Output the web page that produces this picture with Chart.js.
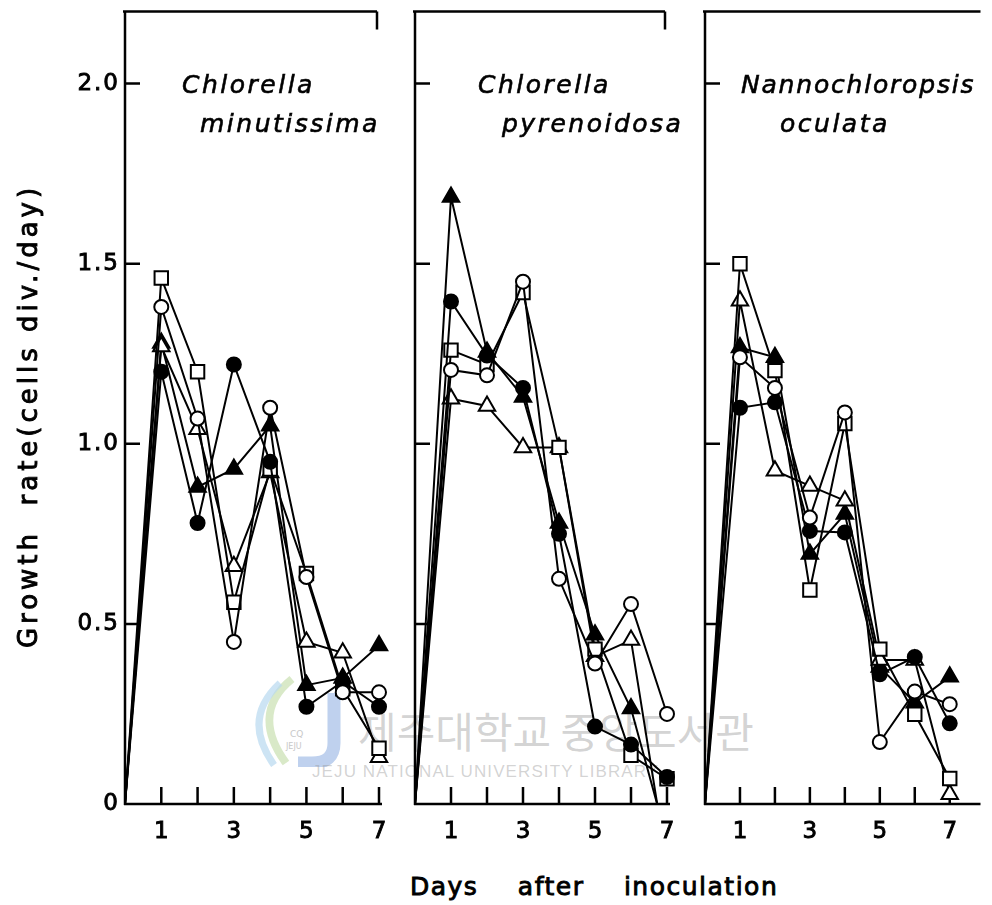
<!DOCTYPE html>
<html lang="en">
<head>
    <meta charset="UTF-8">
    <title>Growth rate of microalgae</title>
    <script src="https://cdn.jsdelivr.net/npm/chart.js"></script>
    <style>
        body {
            margin: 0;
            background: #fff;
        }

        #wrap {
            position: relative;
            width: 992px;
            height: 905px;
            overflow: hidden;
            background: #fff;
        }

        #wrap canvas {
            position: absolute;
            top: 0;
        }

        .mark {
            position: absolute;
            color: rgba(150, 150, 150, 0.42);
            white-space: nowrap;
        }

        #xTitle {
            position: absolute;
            left: 410px;
            top: 872px;
            font: 25px 'DejaVu Sans', sans-serif;
            letter-spacing: 1.5px;
            word-spacing: 30px;
            -webkit-text-stroke: 0.9px #000;
            white-space: nowrap;
        }
    </style>
</head>
<body>
<div id="wrap">
    <!-- library stamp behind the plots -->
    <svg class="mark" style="left:250px; top:675px;" width="100" height="92" viewBox="0 0 100 92">
        <path d="M42 4 C12 28 14 58 36 88" fill="none" stroke="#c9e0b0" stroke-width="8" opacity="0.7"/>
        <path d="M30 8 C2 34 4 62 24 90" fill="none" stroke="#b8d8ef" stroke-width="7" opacity="0.7"/>
        <path d="M84 18 L84 68 Q84 88 62 88 L48 88" fill="none" stroke="#a9c2e8" stroke-width="13" opacity="0.75"/>
        <text x="40" y="62" font-size="9" font-family="DejaVu Sans" fill="#c8c8c8">CQ</text>
        <text x="36" y="74" font-size="8" font-family="DejaVu Sans" fill="#c8c8c8">JEJU</text>
    </svg>
    <div class="mark" style="left:358px; top:705px; font: 42px 'Noto Sans CJK KR', sans-serif; line-height:50px;">제주대학교 중앙도서관</div>
    <div class="mark" style="left:312px; top:762px; font: 17px 'Liberation Sans', sans-serif; letter-spacing:1.1px; line-height:20px;">JEJU NATIONAL UNIVERSITY LIBRARY</div>

    <canvas id="p1" width="400" height="860" style="left:0px"></canvas>
    <canvas id="p2" width="290" height="860" style="left:395px"></canvas>
    <canvas id="p3" width="307" height="860" style="left:685px"></canvas>

    <div id="xTitle">Days after inoculation</div>
</div>

<script>
    const days = [0, 1, 2, 3, 4, 5, 6, 7];
    const yTicks = [0, 0.5, 1.0, 1.5, 2.0];
    const yTickLabels = ['0', '0.5', '1.0', '1.5', '2.0'];
    const xTickLabels = [1, 3, 5, 7];

    // Chlorella minutissima
    const cmOpenCircle     = [0, 1.38, 1.07, 0.45, 1.10, 0.63, 0.31, 0.31];
    const cmFilledCircle   = [0, 1.20, 0.78, 1.22, 0.95, 0.27, 0.34, 0.27];
    const cmOpenSquare     = [0, 1.46, 1.20, 0.56, 0.93, 0.64, 0.32, 0.155];
    const cmOpenTriangle   = [0, 1.27, 1.04, 0.66, 0.92, 0.45, 0.42, 0.13];
    const cmFilledTriangle = [0, 1.28, 0.88, 0.93, 1.05, 0.33, 0.35, 0.44];

    // Chlorella pyrenoidosa (the last two triangles fall below zero and are cut off)
    const cpOpenCircle     = [0, 1.205, 1.19, 1.45, 0.625, 0.39, 0.555, 0.25];
    const cpFilledCircle   = [0, 1.395, 1.245, 1.155, 0.75, 0.215, 0.165, 0.075];
    const cpOpenSquare     = [0, 1.26, 1.22, 1.42, 0.99, 0.43, 0.135, 0.07];
    const cpOpenTriangle   = [0, 1.125, 1.105, 0.99, 0.99, 0.41, 0.455, -0.17];
    const cpFilledTriangle = [0, 1.685, 1.255, 1.13, 0.78, 0.47, 0.265, -0.10];

    // Nannochloropsis oculata
    const noOpenCircle     = [0, 1.24, 1.155, 0.795, 1.087, 0.172, 0.312, 0.277];
    const noFilledCircle   = [0, 1.10, 1.115, 0.758, 0.754, 0.36, 0.408, 0.224];
    const noOpenSquare     = [0, 1.50, 1.203, 0.594, 1.056, 0.43, 0.249, 0.071];
    const noOpenTriangle   = [0, 1.397, 0.925, 0.883, 0.842, 0.40, 0.40, 0.027];
    const noFilledTriangle = [0, 1.267, 1.24, 0.694, 0.805, 0.38, 0.281, 0.353];

    const FONT = "'DejaVu Sans', sans-serif";

    // marker look for each of the five series, same order as the arrays above
    const markers = [
        { style: 'circle',   fill: '#fff', radius: 7 },
        { style: 'circle',   fill: '#000', radius: 7 },
        { style: 'rect',     fill: '#fff', radius: 9.5 },
        { style: 'triangle', fill: '#fff', radius: 9.5 },
        { style: 'triangle', fill: '#000', radius: 9.5 }
    ];

    function makeDatasets(series) {
        return series.map((vals, i) => ({
            data: days.map((d, j) => ({ x: d, y: vals[j] })),
            borderColor: '#000',
            borderWidth: 2,
            pointStyle: markers[i].style,
            // no symbol at the day-0 starting point
            pointRadius: c => (c.dataIndex === 0 ? 0 : markers[i].radius),
            pointBackgroundColor: markers[i].fill,
            pointBorderColor: '#000',
            pointBorderWidth: 2,
            showLine: true,
            tension: 0,
            clip: { left: 14, right: 14, top: 14, bottom: 0 }
        }));
    }

    // filled text with a thin outline so the strokes come out heavier
    function heavyText(ctx, s, x, y) {
        ctx.fillText(s, x, y);
        ctx.strokeText(s, x, y);
    }

    // axes frame, inward ticks and lettering
    const framePlugin = {
        id: 'frame',
        beforeDatasetsDraw(chart, args, o) {
            const { ctx, chartArea: a, scales: { x, y } } = chart;
            ctx.save();
            ctx.strokeStyle = '#000';
            ctx.lineWidth = 2.5;
            ctx.beginPath();
            ctx.moveTo(a.left, a.top - 1);
            ctx.lineTo(a.left, a.bottom + 1);
            ctx.moveTo(a.left - 2, a.top);
            ctx.lineTo(o.openRight ? a.right : a.right - 2, a.top);
            ctx.moveTo(a.left - 1, a.bottom);
            ctx.lineTo(o.openRight ? a.right : a.right + 3, a.bottom);
            if (!o.openRight) {
                ctx.moveTo(a.right - 2, a.top);
                ctx.lineTo(a.right - 2, a.top + 18);
            }
            yTicks.slice(1).forEach(v => {
                const py = y.getPixelForValue(v);
                ctx.moveTo(a.left, py);
                ctx.lineTo(a.left + 15, py);
            });
            days.slice(1).forEach(d => {
                const px = x.getPixelForValue(d);
                ctx.moveTo(px, a.bottom);
                ctx.lineTo(px, a.bottom - 17);
            });
            ctx.stroke();

            ctx.fillStyle = '#000';
            ctx.lineWidth = 0.9;
            ctx.letterSpacing = '2px';
            ctx.font = '23px ' + FONT;
            ctx.textAlign = 'center';
            ctx.textBaseline = 'middle';
            xTickLabels.forEach(d => {
                heavyText(ctx, String(d), x.getPixelForValue(d) + 1, a.bottom + 28);
            });

            if (o.yLabels) {
                ctx.textAlign = 'right';
                yTicks.forEach((v, i) => {
                    heavyText(ctx, yTickLabels[i], a.left - 5, y.getPixelForValue(v));
                });
                ctx.save();
                ctx.translate(30, 416);
                ctx.rotate(-Math.PI / 2);
                ctx.textAlign = 'center';
                ctx.font = '26px ' + FONT;
                ctx.letterSpacing = '4px';
                heavyText(ctx, 'Growth  rate(cells div./day)', 0, 0);
                ctx.restore();
            }

            ctx.font = 'italic 25px ' + FONT;
            ctx.letterSpacing = '2.5px';
            ctx.lineWidth = 0.6;
            ctx.textAlign = 'left';
            ctx.textBaseline = 'alphabetic';
            o.title.forEach((t, i) => {
                if (o.titleSpacing) ctx.letterSpacing = o.titleSpacing[i];
                heavyText(ctx, t, a.left + o.titleX[i], [93, 132][i]);
            });
            ctx.restore();
        }
    };

    function makePanel(id, series, xMax, padding, frame) {
        return new Chart(document.getElementById(id), {
            type: 'scatter',
            data: { datasets: makeDatasets(series) },
            options: {
                responsive: false,
                devicePixelRatio: 1,
                animation: false,
                events: [],
                layout: { padding },
                scales: {
                    x: { type: 'linear', min: 0, max: xMax, display: false },
                    y: { type: 'linear', min: 0, max: 2.2, display: false }
                },
                plugins: {
                    legend: { display: false },
                    tooltip: { enabled: false },
                    frame
                }
            },
            plugins: [framePlugin]
        });
    }

    makePanel('p1',
        [cmOpenCircle, cmFilledCircle, cmOpenSquare, cmOpenTriangle, cmFilledTriangle],
        7, { left: 125, right: 21, top: 9, bottom: 56 },
        { yLabels: true, title: ['Chlorella', 'minutissima'], titleX: [57, 75] });

    makePanel('p2',
        [cpOpenCircle, cpFilledCircle, cpOpenSquare, cpOpenTriangle, cpFilledTriangle],
        7, { left: 20, right: 18, top: 9, bottom: 56 },
        { title: ['Chlorella', 'pyrenoidosa'], titleX: [63, 87] });

    makePanel('p3',
        [noOpenCircle, noFilledCircle, noOpenSquare, noOpenTriangle, noFilledTriangle],
        7.88, { left: 20, right: 0, top: 9, bottom: 56 },
        { openRight: true, title: ['Nannochloropsis', 'oculata'], titleX: [36, 75],
          titleSpacing: ['1.8px', '2.5px'] });
</script>
</body>
</html>
